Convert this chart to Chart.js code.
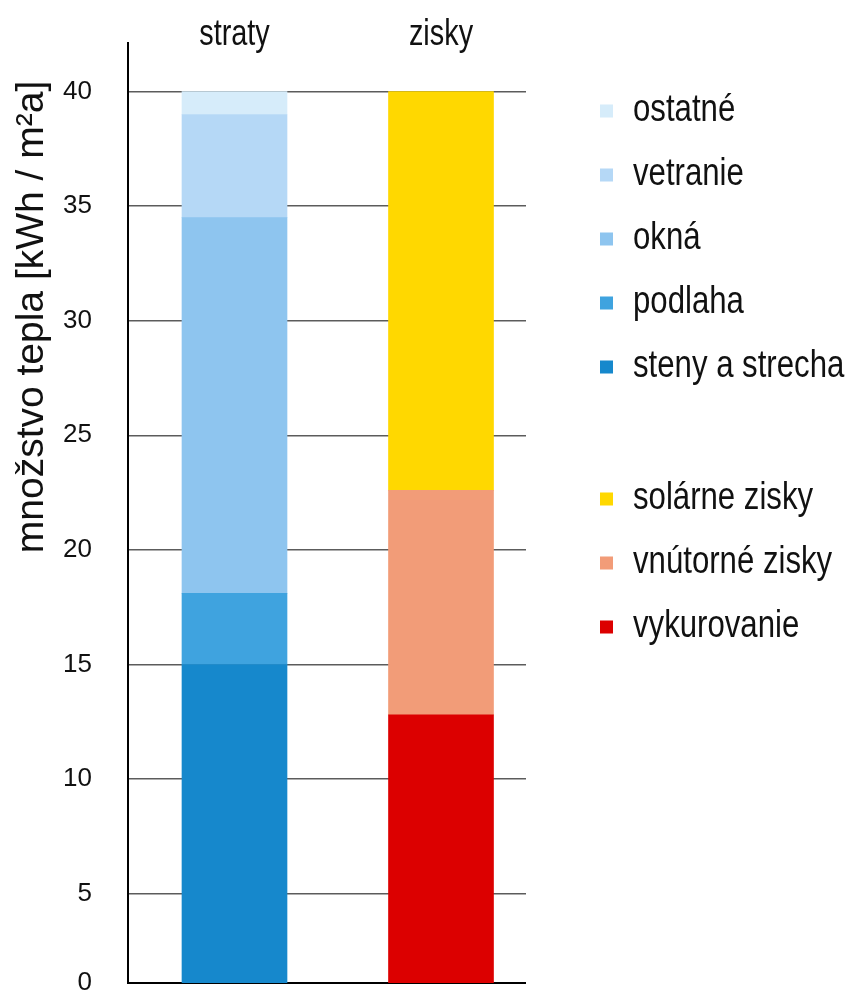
<!DOCTYPE html>
<html lang="sk">
<head>
<meta charset="utf-8">
<title>Straty a zisky tepla</title>
<script src="https://cdn.jsdelivr.net/npm/chart.js@4.4.1/dist/chart.umd.min.js"></script>
<style>
  html, body { margin: 0; padding: 0; background: #fff; }
  #wrap { width: 861px; height: 1003px; }
</style>
</head>
<body>
<div id="wrap"><canvas id="c" width="861" height="1003"></canvas></div>
<script>
// values, kWh / m²a, stacked bottom → top
const categories = ['straty', 'zisky'];
const lossLabels = ['steny a strecha', 'podlaha', 'okná', 'vetranie', 'ostatné'];
const lossValues = [15.0, 3.1, 16.4, 4.5, 1.0];
const lossColors = ['#1688cc', '#3fa3df', '#8ec5ef', '#b5d8f6', '#d6ecfa'];
const gainLabels = ['vykurovanie', 'vnútorné zisky', 'solárne zisky'];
const gainValues = [12.8, 9.8, 17.4];
const gainColors = ['#dc0000', '#f29c78', '#ffd800'];
const yTicks = [0, 5, 10, 15, 20, 25, 30, 35, 40];
const yTitle = 'množstvo tepla [kWh / m²a]';

const SANS = "'Liberation Sans', Arial, sans-serif";
const INK = '#111';

const datasets = [
  ...lossLabels.map((label, i) => ({ label, data: [{ x: 0, y: lossValues[i] }], backgroundColor: lossColors[i], group: 0 })),
  ...gainLabels.map((label, i) => ({ label, data: [{ x: 1, y: gainValues[i] }], backgroundColor: gainColors[i], group: 1 })),
];

// the original lettering is a narrow grotesque: squeeze regular Liberation Sans horizontally
function narrowText(ctx, text, x, y, squeeze) {
  ctx.save();
  ctx.translate(x, y);
  ctx.scale(squeeze, 1);
  ctx.fillText(text, 0, 0);
  ctx.restore();
}

// category names over the bars, rotated axis title, two-group legend on the right
const sideText = {
  id: 'sideText',
  afterDraw(chart, _args, o) {
    const ctx = chart.ctx;
    const xs = chart.scales.x;

    ctx.save();
    ctx.fillStyle = INK;
    ctx.font = '37px ' + SANS;
    ctx.textAlign = 'center';
    ctx.textBaseline = 'alphabetic';
    categories.forEach((c, i) => narrowText(ctx, c, xs.getPixelForValue(i), o.catBaseline, 0.78));
    ctx.restore();

    ctx.save();
    ctx.fillStyle = INK;
    ctx.font = '39px ' + SANS;
    ctx.translate(o.titleX, o.titleY);
    ctx.rotate(-Math.PI / 2);
    ctx.textAlign = 'center';
    ctx.textBaseline = 'alphabetic';
    ctx.fillText(yTitle, 0, 0);
    ctx.restore();

    ctx.save();
    ctx.font = '38px ' + SANS;
    ctx.textBaseline = 'alphabetic';
    ctx.textAlign = 'left';
    [0, 1].forEach((g) => {
      const items = chart.data.datasets.filter((d) => d.group === g).reverse();
      items.forEach((d, i) => {
        const cy = o.groupTop[g] + i * o.step;
        ctx.fillStyle = d.backgroundColor;
        ctx.fillRect(o.markX, cy - o.mark / 2, o.mark, o.mark);
        ctx.fillStyle = INK;
        narrowText(ctx, d.label, o.textX, cy + 10, 0.82);
      });
    });
    ctx.restore();
  },
};

new Chart(document.getElementById('c'), {
  type: 'bar',
  data: { datasets },
  plugins: [sideText],
  options: {
    responsive: false,
    devicePixelRatio: 1,
    animation: false,
    barThickness: 105,
    layout: { autoPadding: false, padding: { top: 0, left: 0, right: 335, bottom: 20 } },
    plugins: {
      legend: { display: false },
      tooltip: { enabled: false },
      sideText: { catBaseline: 45, titleX: 43, titleY: 317, markX: 600, mark: 13, textX: 633, step: 64, groupTop: [111, 499] },
    },
    scales: {
      x: {
        type: 'linear', position: 'top', stacked: true, offset: false,
        min: -0.5157, max: 1.4116,
        afterFit: (s) => { s.height = 43; },
        afterBuildTicks: (s) => { s.ticks = categories.map((_, i) => ({ value: i })); },
        grid: { display: false, drawTicks: false, offset: false },
        border: { display: false },
        ticks: { display: false },
      },
      y: {
        type: 'linear', stacked: true,
        min: 1.1, max: 42.12,
        afterFit: (s) => { s.width = 128; s.paddingTop = 0; s.paddingBottom = 0; },
        afterBuildTicks: (s) => { s.ticks = yTicks.map((v) => ({ value: Math.max(v, s.min) })); },
        grid: {
          drawTicks: false,
          color: (c) => (c.index === 0 ? '#000' : '#5c5c5c'),
          lineWidth: (c) => (c.index === 0 ? 2 : 1.5),
        },
        border: { color: '#000', width: 2 },
        ticks: {
          padding: 36, color: INK, font: { family: SANS, size: 26 },
          callback: (v, i) => String(yTicks[i]),
        },
      },
    },
  },
});
</script>
</body>
</html>
